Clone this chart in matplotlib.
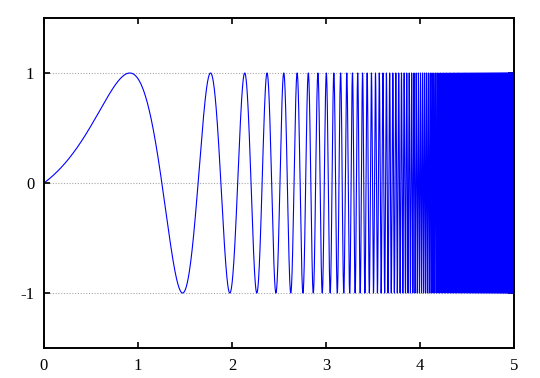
import numpy as np
import matplotlib
matplotlib.use("Agg")
import matplotlib.pyplot as plt

# x positions of the successive peaks / troughs
peak_x = [0.911, 1.769, 2.129, 2.370, 2.535, 2.688, 2.810, 2.913, 3.000]
trough_x = [1.480, 1.985, 2.266, 2.467, 2.632, 2.759, 2.869, 2.968]

x_ticks = [0, 1, 2, 3, 4, 5]
y_ticks = [-1, 0, 1]
x_range = (0, 5)
y_range = (-1.5, 1.5)

# phase of each extremum: peaks at pi/2 + 2k*pi, troughs at 3pi/2 + 2k*pi
ext_x = np.array(peak_x + trough_x)
ext_phase = np.array([np.pi / 2 + 2 * np.pi * k for k in range(len(peak_x))] +
                     [3 * np.pi / 2 + 2 * np.pi * k for k in range(len(trough_x))])

# fit  ln(phase) = c + p*ln(x) + b*x  to the extrema
A = np.column_stack([np.ones_like(ext_x), np.log(ext_x), ext_x])
c, p, b = np.linalg.lstsq(A, np.log(ext_phase), rcond=None)[0]

x = np.linspace(x_range[0], x_range[1], 400000)
phase = np.exp(c) * x ** p * np.exp(b * x)
y = np.sin(phase)

fig = plt.figure(figsize=(5.4, 3.78), dpi=100)
ax = fig.add_axes([44 / 540, 1 - 348 / 378, 470 / 540, 330 / 378])

for yv in y_ticks:
    ax.axhline(yv, color="#a8a8a8", lw=0.8, ls=(0, (1, 1.5)), zorder=1)

ax.plot(x, y, color="#0000ff", lw=0.8, zorder=2)

ax.set_xlim(*x_range)
ax.set_ylim(*y_range)
ax.set_xticks(x_ticks)
ax.set_yticks(y_ticks)
ax.set_xticklabels([str(t) for t in x_ticks])
ax.set_yticklabels([str(t) for t in y_ticks])
ax.tick_params(direction="in", length=4, width=1.2, top=True, right=True,
               labelsize=12, pad=7)
for lab in ax.get_xticklabels() + ax.get_yticklabels():
    lab.set_fontfamily("Liberation Serif")
for s in ax.spines.values():
    s.set_linewidth(1.4)

fig.savefig("out.png", dpi=100)
